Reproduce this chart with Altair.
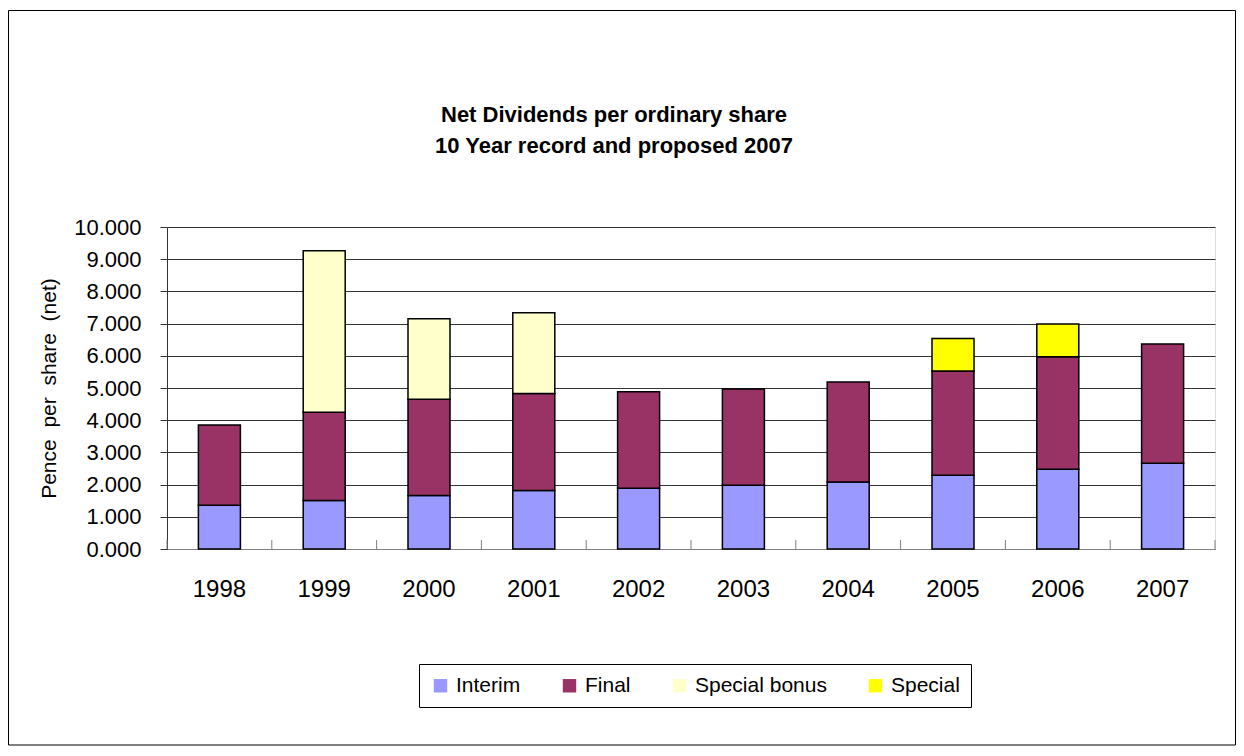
import altair as alt
import pandas as pd

years = ["1998", "1999", "2000", "2001", "2002", "2003", "2004", "2005", "2006", "2007"]
interim = [1.36, 1.51, 1.66, 1.82, 1.89, 1.98, 2.08, 2.29, 2.48, 2.66]
final = [2.49, 2.74, 2.99, 3.01, 2.99, 2.99, 3.11, 3.24, 3.49, 3.71]
special_bonus = [0, 5.01, 2.50, 2.51, 0, 0, 0, 0, 0, 0]
special = [0, 0, 0, 0, 0, 0, 0, 1.01, 1.02, 0]
series = ["Interim", "Final", "Special bonus", "Special"]
colors = ["#9999FF", "#993366", "#FFFFCC", "#FFFF00"]
title_lines = ["Net Dividends per ordinary share", "10 Year record and proposed 2007"]
y_title = "Pence\u00a0\u00a0per\u00a0\u00a0share\u00a0\u00a0(net)"

rows = []
for i, y in enumerate(years):
    for k, (name, vals) in enumerate(zip(series, [interim, final, special_bonus, special])):
        if vals[i] > 0:
            rows.append({"Year": y, "Series": name, "Value": vals[i], "order": k})
df = pd.DataFrame(rows)

FONT = "Liberation Sans"
PL, PT, W, H = 159, 219, 1048, 322
CW, CH = 1228, 738

xscale = alt.Scale(domain=years, paddingInner=0, paddingOuter=0)

bars = alt.Chart(df).mark_bar(stroke="black", strokeWidth=1.5, size=42).encode(
    x=alt.X("Year:N", sort=years, title=None, scale=xscale,
            axis=alt.Axis(labelAngle=0, labelFontSize=24, labelFont=FONT, labelColor="black",
                          labelPadding=28, ticks=False,
                          domainColor="#808080", grid=False)),
    y=alt.Y("sum(Value):Q", title=y_title, stack="zero",
            scale=alt.Scale(domain=[0, 10]),
            axis=alt.Axis(values=list(range(11)), format=".3f", labelFontSize=22, labelFont=FONT,
                          labelColor="black", labelPadding=19, tickSize=7, tickColor="#333333",
                          domainColor="#333333", gridColor="#333333", gridWidth=1,
                          titleFontSize=21, titleFont=FONT, titleFontWeight="normal",
                          titleColor="black", titlePadding=14)),
    color=alt.Color("Series:N", sort=series,
                    scale=alt.Scale(domain=series, range=colors),
                    legend=alt.Legend(orient="none", legendX=252, legendY=437, direction="horizontal",
                                      title=None, symbolType="square", symbolSize=180,
                                      symbolStrokeColor="transparent", labelFontSize=21, labelFont=FONT,
                                      labelColor="black", columnPadding=38, padding=11,
                                      labelOffset=5, strokeColor="black", fillColor="white")),
    order=alt.Order("order:Q"),
)

tick_df = pd.DataFrame({"Year": years})
ticks_left = alt.Chart(tick_df).mark_rule(color="#808080", strokeWidth=1).encode(
    x=alt.X("Year:N", sort=years, scale=xscale, bandPosition=0),
    y=alt.value(H - 9), y2=alt.value(H),
)
ticks_right = alt.Chart(tick_df.tail(1)).mark_rule(color="#808080", strokeWidth=1).encode(
    x=alt.X("Year:N", sort=years, scale=xscale, bandPosition=1),
    y=alt.value(H - 9), y2=alt.value(H),
)

title = alt.Chart(pd.DataFrame({"a": [0]})).mark_text(
    text=title_lines, font=FONT, fontSize=22, fontWeight="bold", color="black",
    align="center", baseline="middle", lineHeight=31,
).encode(x=alt.value(447), y=alt.value(-112))

frame = alt.Chart(pd.DataFrame({"a": [0]})).mark_rect(fill=None, stroke="black", strokeWidth=1).encode(
    x=alt.value(-PL + 0.5), x2=alt.value(CW - PL - 0.5),
    y=alt.value(-PT + 2.5), y2=alt.value(CH - PT - 1),
)

chart = alt.layer(bars, ticks_left, ticks_right, title, frame).properties(
    width=W, height=H,
    autosize=alt.AutoSizeParams(type="none"),
    padding={"left": PL, "top": PT, "right": CW - PL - W, "bottom": CH - PT - H},
).configure_view(stroke=None).configure(background="white")

chart.save("out.html", embed_options={"renderer": "svg", "actions": False})
